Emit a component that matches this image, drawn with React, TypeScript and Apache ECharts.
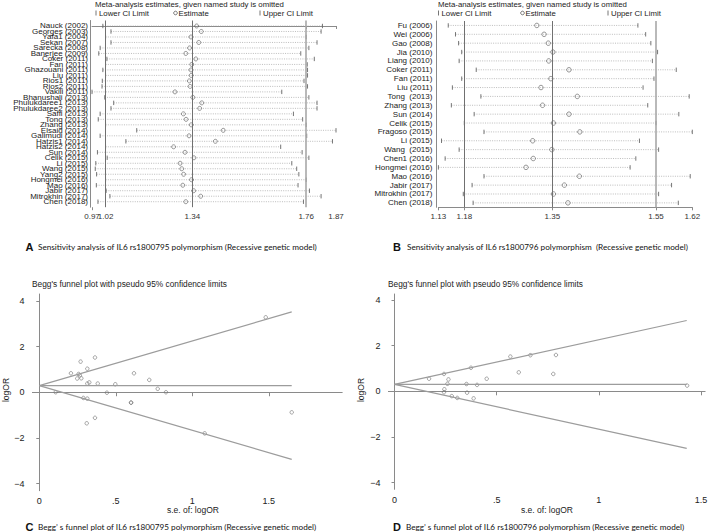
import React, { useEffect, useRef } from 'react';
import * as echarts from 'echarts';

// ---------- Panel A: IL6 rs1800795 sensitivity analysis ----------
const studiesA = ['Nauck (2002)', 'Georges (2003)', 'Yafa1 (2004)', 'Sekan (2007)', 'Sarecka (2008)', 'Banerjee (2009)', 'Coker (2011)', 'Fan (2011)', 'Ghazouani (2011)', 'Liu (2011)', 'Rios1 (2011)', 'Rios2 (2011)', 'Vakili (2011)', 'Bhanushali (2013)', 'Phulukdaree1 (2013)', 'Phulukdaree2 (2013)', 'Saffi (2013)', 'Tong (2013)', 'Zhang (2013)', 'Elsaid (2014)', 'Galimudi (2014)', 'Hatzis1 (2014)', 'Hatzis2 (2014)', 'Sun (2014)', 'Celik (2015)', 'Li (2015)', 'Wang (2015)', 'Yang2 (2015)', 'Hongmei (2016)', 'Mao (2016)', 'Jabir (2017)', 'Mitrokhin (2017)', 'Chen (2018)'];
const lowerA = [1.01, 1.04, 1.02, 1.04, 1.0, 0.995, 1.025, 1.02, 1.01, 1.02, 1.008, 1.007, 0.97, 1.017, 1.05, 1.04, 1.0, 0.993, 1.02, 1.135, 1.0, 1.095, 1.02, 0.99, 1.026, 0.984, 0.982, 0.987, 1.02, 0.986, 1.022, 1.036, 0.992];
const estA = [1.356, 1.373, 1.335, 1.364, 1.33, 1.316, 1.353, 1.338, 1.335, 1.336, 1.329, 1.332, 1.276, 1.342, 1.375, 1.367, 1.307, 1.317, 1.336, 1.454, 1.328, 1.425, 1.271, 1.313, 1.346, 1.295, 1.301, 1.308, 1.337, 1.305, 1.345, 1.371, 1.316];
const upperA = [1.82, 1.815, 1.76, 1.8, 1.77, 1.74, 1.79, 1.764, 1.765, 1.765, 1.752, 1.765, 1.67, 1.77, 1.8, 1.8, 1.713, 1.747, 1.76, 1.87, 1.762, 1.857, 1.666, 1.745, 1.77, 1.707, 1.725, 1.733, 1.76, 1.73, 1.772, 1.815, 1.75];
const ticksA = [1.02, 1.34, 1.76, 1.87];
const minTickA = [0.97];
const refA = [1.02, 1.34, 1.76];

// ---------- Panel B: IL6 rs1800796 sensitivity analysis ----------
const studiesB = ['Fu (2006)', 'Wei (2006)', 'Gao (2008)', 'Jia (2010)', 'Liang (2010)', 'Coker (2011)', 'Fan (2011)', 'Liu (2011)', 'Tong  (2013)', 'Zhang (2013)', 'Sun (2014)', 'Celik (2015)', 'Fragoso (2015)', 'Li (2015)', 'Wang  (2015)', 'Chen1 (2016)', 'Hongmei (2016)', 'Mao (2016)', 'Jabir (2017)', 'Mitrokhin (2017)', 'Chen (2018)'];
const lowerB = [1.149, 1.163, 1.169, 1.175, 1.17, 1.203, 1.175, 1.157, 1.212, 1.155, 1.199, 1.18, 1.218, 1.136, 1.17, 1.143, 1.13, 1.218, 1.195, 1.178, 1.197];
const estB = [1.32, 1.334, 1.342, 1.351, 1.343, 1.382, 1.347, 1.328, 1.398, 1.331, 1.382, 1.352, 1.403, 1.312, 1.349, 1.313, 1.299, 1.402, 1.373, 1.352, 1.38];
const upperB = [1.515, 1.53, 1.54, 1.553, 1.543, 1.589, 1.546, 1.525, 1.614, 1.534, 1.594, 1.55, 1.62, 1.518, 1.555, 1.511, 1.5, 1.616, 1.58, 1.555, 1.593];
const ticksB = [1.13, 1.18, 1.35, 1.55, 1.62];
const refB = [1.18, 1.35, 1.55];

// ---------- Panel C: Begg's funnel, rs1800795 ----------
const seC = [0.107, 0.207, 0.27, 0.364, 0.314, 0.257, 0.265, 0.248, 0.275, 0.314, 0.327, 0.382, 0.497, 0.442, 0.288, 0.314, 0.364, 0.31, 0.6, 0.6, 0.619, 0.719, 0.774, 0.828, 1.081, 1.48, 1.65];
const logOrC = [0.0, 0.83, 1.34, 1.52, 1.03, 0.8, 0.74, 0.6, 0.61, 0.38, 0.43, 0.38, 0.35, -0.02, -0.25, -0.28, -1.12, -1.36, -0.45, -0.46, 0.83, 0.54, 0.15, 0.0, -1.8, 3.28, -0.88];
const pooledC = 0.29;
const seEndC = 1.65;
const upperEndC = 3.52;
const lowerEndC = -2.94;

// ---------- Panel D: Begg's funnel, rs1800796 ----------
const seD = [0.169, 0.242, 0.264, 0.259, 0.244, 0.242, 0.28, 0.307, 0.352, 0.355, 0.387, 0.404, 0.374, 0.451, 0.567, 0.608, 0.665, 0.777, 0.79, 1.432];
const logOrD = [0.55, 0.76, 0.52, 0.33, 0.09, -0.04, -0.21, -0.29, 0.32, -0.06, -0.31, 0.28, 1.03, 0.55, 1.52, 0.83, 1.58, 0.76, 1.59, 0.25];
const pooledD = 0.3;
const seEndD = 1.43;
const upperEndD = 3.1;
const lowerEndD = -2.5;

const funnelTicksX = [0, 0.5, 1, 1.5];
const funnelTicksY = [-4, -2, 0, 2, 4];

const SANS = "'Liberation Sans', Arial, sans-serif";
const CAP = "Lato, 'Open Sans', sans-serif";
const AXIS_GRAY = '#8a8a8a';

const ciRender = (params: any, api: any) => {
  const y = api.value(2);
  const a = api.coord([api.value(0), y]);
  const b = api.coord([api.value(1), y]);
  const h = 2.2;
  return {
    type: 'group',
    children: [
      { type: 'line', shape: { x1: a[0], y1: a[1], x2: b[0], y2: b[1] }, style: { stroke: '#a0a0a0', lineWidth: 0.7, lineDash: [1, 1.3] } },
      { type: 'line', shape: { x1: a[0], y1: a[1] - h, x2: a[0], y2: a[1] + h }, style: { stroke: '#666', lineWidth: 0.9 } },
      { type: 'line', shape: { x1: b[0], y1: b[1] - h, x2: b[0], y2: b[1] + h }, style: { stroke: '#666', lineWidth: 0.9 } },
    ],
  };
};

const txt = (x: number, y: number, text: string, extra: any = {}) => ({
  type: 'text',
  x,
  y,
  silent: true,
  style: { text, fontSize: 7.8, fill: '#222', fontFamily: SANS, verticalAlign: 'middle', align: 'left', ...extra },
});

const bar = (x: number, y: number) => ({
  type: 'line',
  silent: true,
  shape: { x1: x, y1: y - 2.5, x2: x, y2: y + 2.5 },
  style: { stroke: '#666', lineWidth: 0.9 },
});

const legendBlock = (x0: number, xEst: number, xUp: number, y: number) => [
  bar(x0 + 1, y),
  txt(x0 + 4, y, 'Lower CI Limit'),
  { type: 'circle', silent: true, shape: { cx: xEst, cy: y, r: 1.8 }, style: { fill: 'none', stroke: '#555', lineWidth: 0.8 } },
  txt(xEst + 3, y, 'Estimate'),
  bar(xUp, y),
  txt(xUp + 3, y, 'Upper CI Limit'),
];

const refLines = (vals: number[], light: number) =>
  vals.map((v, k) => ({
    xAxis: v,
    lineStyle: { color: k === light ? '#a8a8a8' : '#707070', width: k === light ? 1.6 : 1, type: 'solid' },
  }));

const forestX = (idx: number, min: number, max: number, ticks: number[], showLine = true) => ({
  gridIndex: idx,
  type: 'value',
  position: 'bottom',
  min,
  max,
  axisLine: { show: showLine, lineStyle: { color: AXIS_GRAY, width: 1 } },
  axisTick: { show: true, customValues: ticks, length: 3, lineStyle: { color: AXIS_GRAY } },
  axisLabel: { customValues: ticks, hideOverlap: false, showMinLabel: true, showMaxLabel: true, fontSize: 8, color: '#333', margin: 5, fontFamily: SANS, formatter: (v: number) => v.toFixed(2) },
  splitLine: { show: false },
});

const funnelX = (idx: number, min: number, max: number) => ({
  gridIndex: idx,
  type: 'value',
  min,
  max,
  axisLine: { show: true, lineStyle: { color: AXIS_GRAY, width: 1 } },
  axisTick: { show: true, customValues: funnelTicksX, length: 4, lineStyle: { color: AXIS_GRAY } },
  axisLabel: { customValues: funnelTicksX, hideOverlap: false, fontSize: 9, color: '#222', margin: 6, fontFamily: SANS, formatter: (v: number) => String(v).replace(/^0\./, '.') },
  splitLine: { show: false },
});

const funnelY = (idx: number, min: number, max: number) => ({
  gridIndex: idx,
  type: 'value',
  min,
  max,
  axisLine: { show: true, lineStyle: { color: AXIS_GRAY, width: 1 } },
  axisTick: { show: true, customValues: funnelTicksY, length: 3, lineStyle: { color: AXIS_GRAY } },
  axisLabel: { customValues: funnelTicksY, fontSize: 9, color: '#222', margin: 8, fontFamily: SANS, formatter: (v: number) => (v < 0 ? '\u2212' + Math.abs(v) : String(v)) },
  splitLine: { show: false },
});

const funnelLines = (idx: number, pooled: number, seEnd: number, up: number, lo: number) =>
  [
    [[0, pooled], [seEnd, pooled]],
    [[0, pooled], [seEnd, up]],
    [[0, pooled], [seEnd, lo]],
  ].map((d) => ({
    type: 'line',
    xAxisIndex: idx,
    yAxisIndex: idx,
    data: d,
    showSymbol: false,
    symbol: 'none',
    silent: true,
    lineStyle: { color: '#9c9c9c', width: 1.2 },
  }));

const option: any = {
  animation: false,
  backgroundColor: '#fff',
  textStyle: { fontFamily: SANS },
  grid: [
    { left: 92, top: 20.5, width: 244, height: 186.7, outerBoundsMode: 'none' },
    { left: 438.4, top: 21, width: 253.9, height: 186.3, outerBoundsMode: 'none' },
    { left: 32.4, top: 294, width: 309.8, height: 196.7, outerBoundsMode: 'none' },
    { left: 388.4, top: 294, width: 316.7, height: 195.3, outerBoundsMode: 'none' },
  ],
  xAxis: [
    forestX(0, 0.97, 1.87, ticksA),
    forestX(1, 1.13, 1.62, ticksB),
    funnelX(2, -0.045, 1.98),
    funnelX(3, -0.03, 1.52),
    forestX(0, 0.97, 1.87, minTickA, false),
  ],
  yAxis: [
    {
      gridIndex: 0,
      type: 'value',
      min: -1,
      max: 33,
      interval: 1,
      inverse: true,
      offset: 2,
      axisLine: { show: true, lineStyle: { color: AXIS_GRAY } },
      axisTick: { show: false },
      splitLine: { show: false },
      axisLabel: { fontSize: 8, color: '#222', margin: 2, fontFamily: SANS, formatter: (v: number) => studiesA[v] ?? '' },
    },
    {
      gridIndex: 1,
      type: 'category',
      data: studiesB,
      inverse: true,
      offset: 2,
      axisLine: { show: true, lineStyle: { color: AXIS_GRAY } },
      axisTick: { show: false },
      splitLine: { show: false },
      axisLabel: { fontSize: 8, color: '#222', margin: 4, fontFamily: SANS, interval: 0 },
    },
    funnelY(2, -4.31, 4.3),
    funnelY(3, -4.29, 4.26),
  ],
  series: [
    {
      type: 'custom',
      xAxisIndex: 0,
      yAxisIndex: 0,
      renderItem: ciRender,
      encode: { x: [0, 1], y: 2 },
      data: studiesA.map((_, i) => [lowerA[i], upperA[i], i]),
      silent: true,
    },
    {
      type: 'scatter',
      xAxisIndex: 0,
      yAxisIndex: 0,
      symbol: 'circle',
      symbolSize: 4,
      itemStyle: { color: 'rgba(0,0,0,0)', borderColor: '#5a5a5a', borderWidth: 0.8 },
      data: studiesA.map((_, i) => [estA[i], i]),
      silent: true,
      markLine: { silent: true, symbol: 'none', label: { show: false }, data: refLines(refA, 2) },
    },
    {
      type: 'custom',
      xAxisIndex: 1,
      yAxisIndex: 1,
      renderItem: ciRender,
      encode: { x: [0, 1], y: 2 },
      data: studiesB.map((_, i) => [lowerB[i], upperB[i], i]),
      silent: true,
    },
    {
      type: 'scatter',
      xAxisIndex: 1,
      yAxisIndex: 1,
      symbol: 'circle',
      symbolSize: 4.5,
      itemStyle: { color: 'rgba(0,0,0,0)', borderColor: '#5a5a5a', borderWidth: 0.8 },
      data: studiesB.map((_, i) => [estB[i], i]),
      silent: true,
      markLine: { silent: true, symbol: 'none', label: { show: false }, data: refLines(refB, 2) },
    },
    ...funnelLines(2, pooledC, seEndC, upperEndC, lowerEndC),
    {
      type: 'scatter',
      xAxisIndex: 2,
      yAxisIndex: 2,
      symbol: 'circle',
      symbolSize: 3.5,
      itemStyle: { color: 'rgba(0,0,0,0)', borderColor: '#707070', borderWidth: 0.8 },
      data: seC.map((s, i) => [s, logOrC[i]]),
      silent: true,
    },
    ...funnelLines(3, pooledD, seEndD, upperEndD, lowerEndD),
    {
      type: 'scatter',
      xAxisIndex: 3,
      yAxisIndex: 3,
      symbol: 'circle',
      symbolSize: 3.5,
      itemStyle: { color: 'rgba(0,0,0,0)', borderColor: '#707070', borderWidth: 0.8 },
      data: seD.map((s, i) => [s, logOrD[i]]),
      silent: true,
    },
  ],
  graphic: [
    // Panel A header
    txt(95, 4.5, 'Meta-analysis estimates, given named study is omitted'),
    ...legendBlock(95, 175.5, 260, 13),
    // Panel B header
    txt(438, 4.5, 'Meta-analysis estimates, given named study is omitted'),
    ...legendBlock(437.5, 522.5, 608, 13),
    // Captions A/B
    txt(25.5, 247, 'A', { fontSize: 11, fontWeight: 'bold', fontFamily: SANS, fill: '#111' }),
    txt(38, 247, 'Sensitivity analysis of IL6 rs1800795 polymorphism (Recessive genetic model)', { fontSize: 8.2, fontFamily: CAP, fill: '#111' }),
    txt(393, 247, 'B', { fontSize: 11, fontWeight: 'bold', fontFamily: SANS, fill: '#111' }),
    txt(407, 247, 'Sensitivity analysis of IL6 rs1800796 polymorphism  (Recessive genetic model)', { fontSize: 8.2, fontFamily: CAP, fill: '#111' }),
    // Funnel titles
    txt(32, 284, "Begg's funnel plot with pseudo 95% confidence limits", { fontSize: 8.3 }),
    txt(388, 284, "Begg's funnel plot with pseudo 95% confidence limits", { fontSize: 8.3 }),
    // Axis titles
    txt(167, 510, 's.e. of: logOR', { fontSize: 8.5 }),
    txt(521, 510, 's.e. of: logOR', { fontSize: 8.5 }),
    { ...txt(6, 390, 'logOR', { fontSize: 8.5, align: 'center' }), rotation: Math.PI / 2 },
    { ...txt(360.5, 390, 'logOR', { fontSize: 8.5, align: 'center' }), rotation: Math.PI / 2 },
    // Captions C/D
    txt(25.5, 526.5, 'C', { fontSize: 11, fontWeight: 'bold', fontFamily: SANS, fill: '#111' }),
    txt(38, 526.5, 'Begg\u2019 s funnel plot of IL6 rs1800795 polymorphism (Recessive genetic model)', { fontSize: 8.2, fontFamily: CAP, fill: '#111' }),
    txt(393, 526.5, 'D', { fontSize: 11, fontWeight: 'bold', fontFamily: SANS, fill: '#111' }),
    txt(406, 526.5, 'Begg\u2019 s funnel plot of IL6 rs1800796 polymorphism (Recessive genetic model)', { fontSize: 8.2, fontFamily: CAP, fill: '#111' }),
  ],
};

export default function App() {
  const ref = useRef<HTMLDivElement>(null);
  useEffect(() => {
    const chart = echarts.init(ref.current as HTMLDivElement, null, { renderer: 'svg' });
    chart.setOption(option);
    return () => chart.dispose();
  }, []);
  return <div ref={ref} style={{ position: 'absolute', left: 0, top: 0, width: 709, height: 532, background: '#fff' }} />;
}
